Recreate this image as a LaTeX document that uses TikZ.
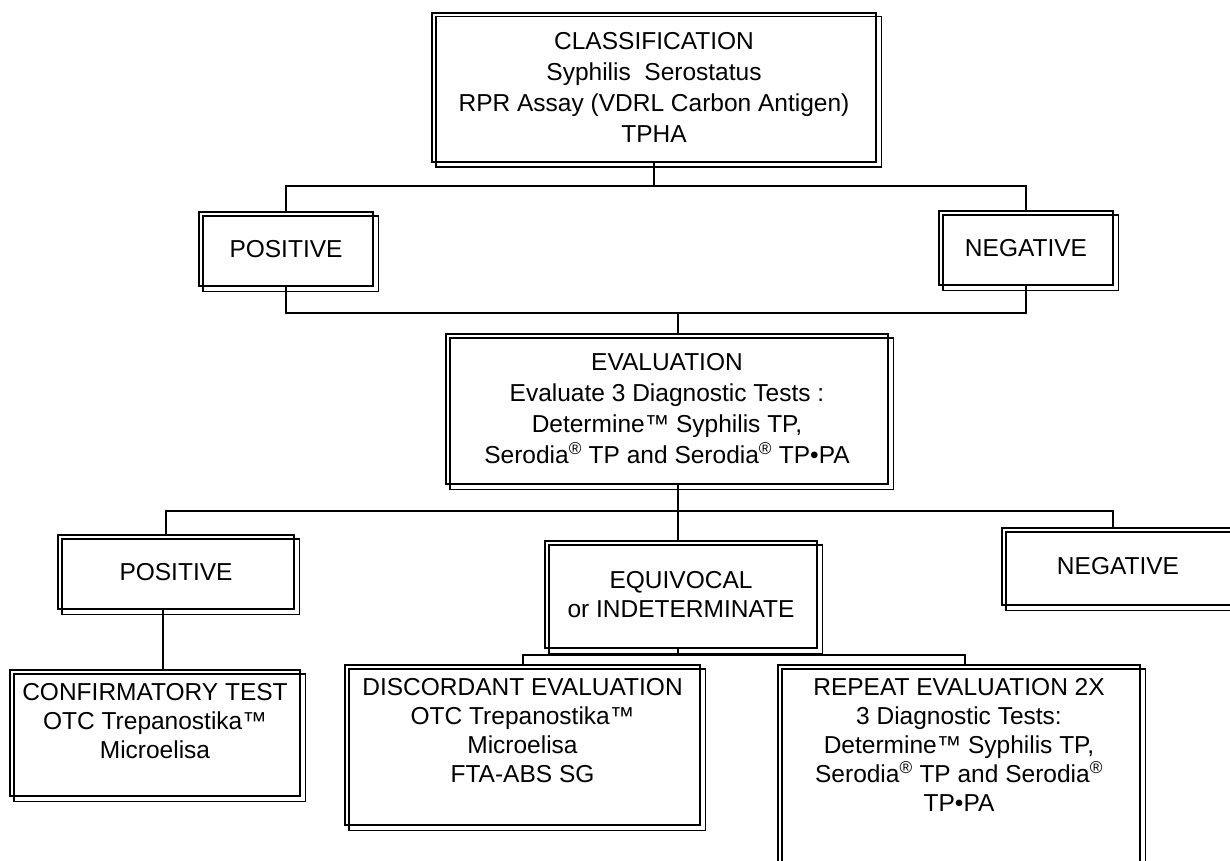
\documentclass[tikz,border=0pt]{standalone}
\usepackage{fontspec}
\setmainfont{Liberation Sans}
\begin{document}
\begin{tikzpicture}[x=1pt,y=-1pt,
  bx/.style={draw, line width=1.8pt, align=center, inner sep=0pt, font=\fontsize{24.5}{31}\selectfont},
  txt/.style={align=center, inner sep=0pt, anchor=north, font=\fontsize{24.5}{29}\selectfont},
  ln/.style={line width=2.6pt}]
\useasboundingbox (0,0) rectangle (1230,861);
\clip (0,0) rectangle (1230,861);
% boxes
\node[bx, minimum width=444pt, minimum height=149pt] (cls) at (654,87.5)
  {CLASSIFICATION\\Syphilis\ \ Serostatus\\RPR Assay (VDRL Carbon Antigen)\\TPHA};
\node[bx, minimum width=174pt, minimum height=74pt] (pos2) at (286,249) {POSITIVE};
\node[bx, minimum width=174pt, minimum height=74pt] (neg2) at (1026,248) {NEGATIVE};
\node[bx, minimum width=442pt, minimum height=150pt] (eval) at (667,409)
  {EVALUATION\\Evaluate 3 Diagnostic Tests :\\Determine™ Syphilis TP,\\Serodia\textsuperscript{®} TP and Serodia\textsuperscript{®} TP•PA};
\node[bx, minimum width=236pt, minimum height=74pt] (pos3) at (176,572) {POSITIVE};
\node[bx, minimum width=272pt, minimum height=107pt, font=\fontsize{24.5}{29}\selectfont] (equ) at (681,594.5) {EQUIVOCAL\\or INDETERMINATE};
\node[bx, minimum width=232pt, minimum height=77pt] (neg3) at (1118,566.5) {NEGATIVE};
\node[bx, minimum width=290pt, minimum height=126pt] (conf) at (155,733) {};
\node[bx, minimum width=355pt, minimum height=160pt] (disc) at (522.5,745) {};
\node[bx, minimum width=362pt, minimum height=215pt] (rep) at (959,772.5) {};
\node[txt] (conftext) at ([yshift=-14pt]conf.north)
  {CONFIRMATORY TEST\\OTC Trepanostika™\\Microelisa};
\node[txt] (disctext) at ([yshift=-14pt]disc.north)
  {DISCORDANT EVALUATION\\OTC Trepanostika™\\Microelisa\\FTA-ABS SG};
\node[txt] (reptext) at ([yshift=-14pt]rep.north)
  {REPEAT EVALUATION 2X\\3 Diagnostic Tests:\\Determine™ Syphilis TP,\\Serodia\textsuperscript{®} TP and Serodia\textsuperscript{®}\\TP•PA};
% second outline of every box
\foreach \n in {cls,pos2,neg2,eval,pos3,equ,neg3,conf,disc,rep}
  \draw[line width=1.8pt] ([shift={(4.5,4.5)}]\n.north west) rectangle ([shift={(4.5,4.5)}]\n.south east);
% junction coordinates
\coordinate (j1) at (0,186);
\coordinate (j2) at (678,313);
\coordinate (j3) at (678,511);
\coordinate (p3) at (166,511);
\coordinate (n3) at (1113,511);
\coordinate (p3b) at (163,0);
\coordinate (j5l) at (523,655);
\coordinate (j5r) at (965,655);
% connectors
\draw[ln] (cls.south) -- (cls.south |- j1);
\draw[ln] (pos2.north) -- (pos2.north |- j1) -- (neg2.north |- j1) -- (neg2.north);
\draw[ln] (pos2.south) -- (pos2.south |- j2) -- (neg2.south |- j2) -- (neg2.south);
\draw[ln] (j2) -- (j2 |- eval.north);
\draw[ln] (j3 |- eval.south) -- (j3);
\draw[ln] (p3 |- pos3.north) -- (p3) -- (n3) -- (n3 |- neg3.north);
\draw[ln] (j3) -- (j3 |- equ.north);
\draw[ln] (p3b |- pos3.south) -- (p3b |- conf.north);
\draw[ln] (j5l |- disc.north) -- (j5l) -- (j5r) -- (j5r |- rep.north);
\draw[ln] (j3 |- equ.south) -- (j3 |- j5l);
\end{tikzpicture}
\end{document}
